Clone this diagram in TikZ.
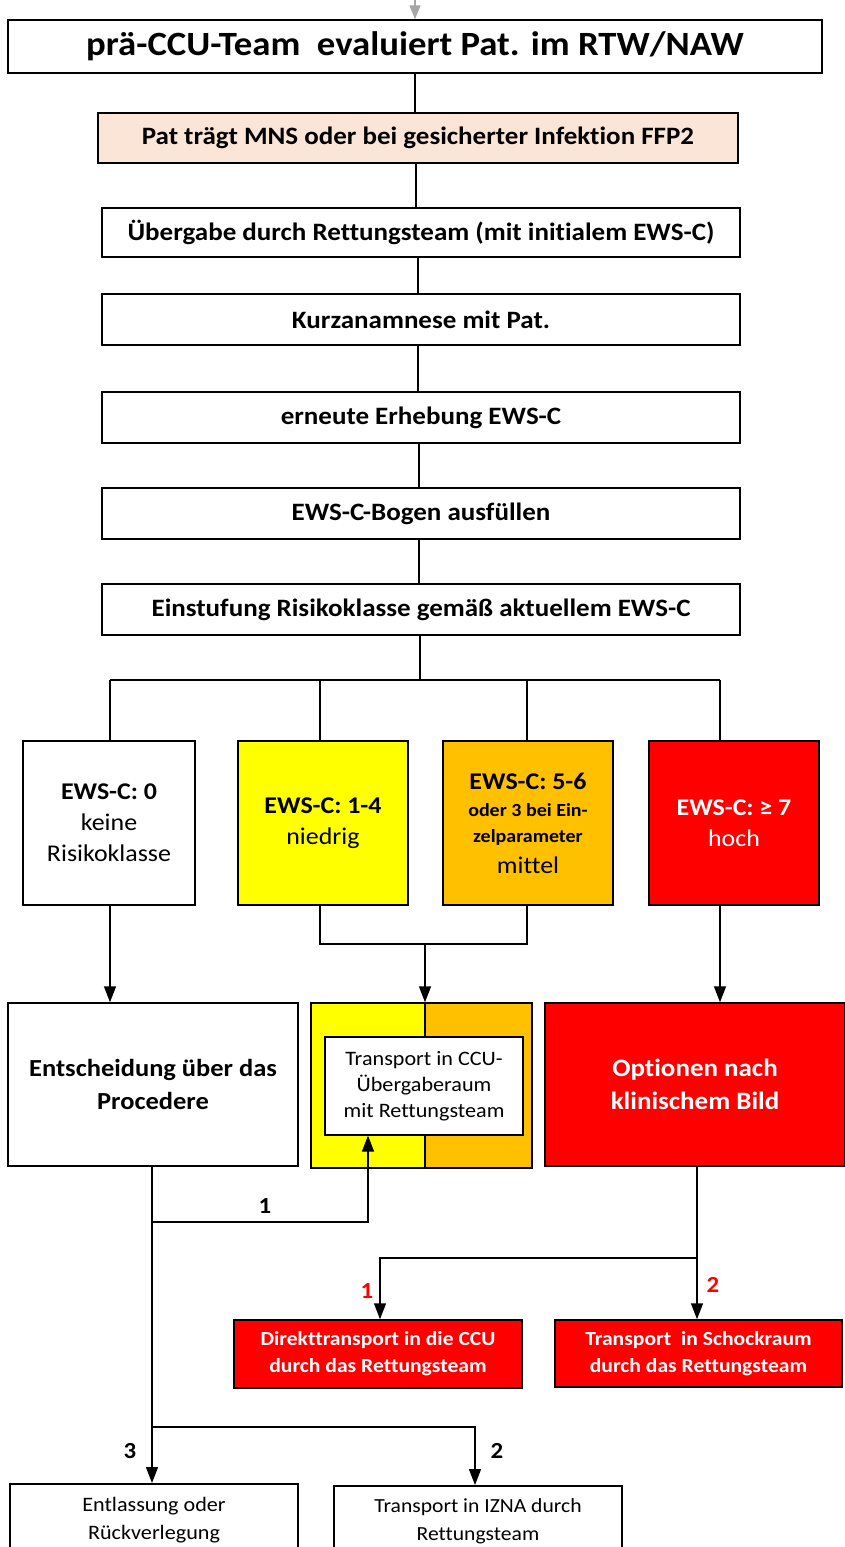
\documentclass[tikz,border=0pt]{standalone}
\usepackage{fontspec}
\setmainfont[FakeStretch=1.08, Ligatures=NoCommon]{Carlito}
\usetikzlibrary{arrows.meta}
\definecolor{peach}{HTML}{FBE5D6}
\definecolor{ewsyellow}{HTML}{FFFF00}
\definecolor{ewsorange}{HTML}{FFC000}
\definecolor{ewsred}{HTML}{FF0000}
\definecolor{topgray}{HTML}{A6A6A6}
\tikzset{
  box/.style={draw=black, line width=1.5pt, rectangle, align=center, inner sep=2pt},
  stepbox/.style={box, fill=white, minimum width=638pt, font=\fontsize{25}{29}\selectfont\bfseries},
  riskbox/.style={box, minimum width=170pt, minimum height=164pt, font=\fontsize{24}{31}\selectfont},
  conn/.style={draw=black, line width=1.5pt},
  arr/.style={conn, -{Triangle[length=16pt,width=12pt]}},
  num/.style={font=\fontsize{23}{26}\selectfont\bfseries},
}
\begin{document}
\begin{tikzpicture}[x=1pt,y=-1pt]
\useasboundingbox (0,0) rectangle (844,1547);
% top
\node[box, fill=white, minimum width=814pt, minimum height=53pt, font=\fontsize{34}{40}\selectfont\bfseries] (title) at (415,46.5) {prä-CCU-Team\ \ evaluiert Pat. im RTW/NAW};
\coordinate (topin) at (415,-12);
\draw[draw=topgray, line width=1.4pt, -{Triangle[length=14pt,width=11pt]}] (topin) -- (title.north);
\node[stepbox, fill=peach, minimum width=640pt, minimum height=50pt] (b2) at (418,138) {Pat trägt MNS oder bei gesicherter Infektion FFP2};
\node[stepbox, minimum height=49pt] (b3) at (421,232.5) {Übergabe durch Rettungsteam (mit initialem EWS-C)};
\node[stepbox, minimum height=51pt] (b4) at (421,319.5) {Kurzanamnese mit Pat.};
\node[stepbox, minimum height=51pt] (b5) at (421,417.5) {erneute Erhebung EWS-C};
\node[stepbox, minimum height=51pt] (b6) at (421,513.5) {EWS-C-Bogen ausfüllen};
\node[stepbox, minimum height=51pt] (b7) at (421,609.5) {Einstufung Risikoklasse gemäß aktuellem EWS-C};
\draw[conn] (title.south -| 415,0) -- (b2.north -| 415,0);
\draw[conn] (b2.south -| 416,0) -- (b3.north -| 416,0);
\draw[conn] (b3.south -| 418,0) -- (b4.north -| 418,0);
\draw[conn] (b4.south -| 418,0) -- (b5.north -| 418,0);
\draw[conn] (b5.south -| 419,0) -- (b6.north -| 419,0);
\draw[conn] (b6.south -| 419,0) -- (b7.north -| 419,0);
% risk boxes
\node[riskbox, fill=white, minimum width=172pt] (r0) at (109,823) {\textbf{EWS-C: 0}\\keine\\Risikoklasse};
\node[riskbox, fill=ewsyellow] (r1) at (323,823) {\textbf{EWS-C: 1-4}\\niedrig};
\node[riskbox, fill=ewsorange] (r2) at (528,823) {\textbf{EWS-C: 5-6}\\[-4pt]{\fontsize{18.5}{25}\selectfont\bfseries oder 3 bei Ein-}\\[-5pt]{\fontsize{18.5}{25}\selectfont\bfseries zelparameter}\\mittel};
\node[riskbox, fill=ewsred, text=white] (r3) at (734,823) {\textbf{EWS-C: ≥ 7}\\hoch};
\coordinate (hc) at (420,680);
\coordinate (h0) at (110,680);
\coordinate (h1) at (320,680);
\coordinate (h2) at (527,680);
\coordinate (h3) at (720,680);
\draw[conn] (b7.south -| hc) -- (hc);
\draw[conn] (h0) -- (h3);
\draw[conn] (h0) -- (h0 |- r0.north);
\draw[conn] (h1) -- (h1 |- r1.north);
\draw[conn] (h2) -- (h2 |- r2.north);
\draw[conn] (h3) -- (h3 |- r3.north);
% decision row
\node[box, fill=white, minimum width=290pt, minimum height=163pt, font=\fontsize{24.5}{33}\selectfont\bfseries] (d0) at (153,1084.5) {Entscheidung über das\\Procedere};
\fill[ewsyellow] (311,1003) rectangle (425,1168);
\fill[ewsorange] (425,1003) rectangle (532,1168);
\draw[line width=1.5pt] (425,1003) -- (425,1168);
\node[box, minimum width=221pt, minimum height=165pt] (dm) at (421.5,1085.5) {};
\node[box, fill=white, line width=1.3pt, minimum width=198pt, minimum height=98pt, font=\fontsize{20.5}{26}\selectfont] (inner) at (424,1086) {Transport in CCU-\\Übergaberaum\\mit Rettungsteam};
\node[box, fill=ewsred, text=white, minimum width=300pt, minimum height=163pt, font=\fontsize{25}{33}\selectfont\bfseries] (d3) at (695,1084.5) {Optionen nach\\klinischem Bild};
% risk to decision
\coordinate (m1) at (320,944);
\coordinate (m2) at (527,944);
\coordinate (mc) at (425,944);
\draw[arr] (r0.south -| 110,0) -- (d0.north -| 110,0);
\draw[conn] (r1.south -| m1) -- (m1) -- (m2) -- (r2.south -| m2);
\draw[arr] (mc) -- (dm.north -| mc);
\draw[arr] (r3.south -| 720,0) -- (d3.north -| 720,0);
% red options
\node[box, fill=ewsred, text=white, minimum width=288pt, minimum height=68pt, font=\fontsize{20}{27}\selectfont\bfseries] (e1) at (378,1354) {Direkttransport in die CCU\\durch das Rettungsteam};
\node[box, fill=ewsred, text=white, minimum width=287pt, minimum height=67pt, font=\fontsize{20}{27}\selectfont\bfseries] (e2) at (698.5,1353.5) {Transport\ \ in Schockraum\\durch das Rettungsteam};
\coordinate (rb) at (697,1258);
\coordinate (rl) at (380,1258);
\draw[arr] (d3.south -| rb) -- (e2.north -| rb);
\draw[arr] (rb) -- (rl) -- (e1.north -| rl);
\node[num, text=ewsred] (n1r) at (367,1291) {1};
\node[num, text=ewsred] (n2r) at (713,1285) {2};
% bottom
\node[box, fill=white, minimum width=288pt, minimum height=72pt, anchor=north, font=\fontsize{20.5}{28}\selectfont] (f1) at (154,1483) {Entlassung oder\\Rückverlegung};
\node[box, fill=white, minimum width=288pt, minimum height=72pt, anchor=north, font=\fontsize{20}{28}\selectfont] (f2) at (478,1485) {Transport in IZNA durch\\Rettungsteam};
\coordinate (l1) at (152,1222);
\coordinate (l1r) at (368,1222);
\coordinate (l2) at (152,1427);
\coordinate (l2r) at (475,1427);
\draw[arr] (d0.south -| l1) -- (f1.north -| l1);
\draw[arr] (l1) -- (l1r) -- (inner.south -| l1r);
\draw[arr] (l2) -- (l2r) -- (f2.north -| l2r);
\node[num] (n1) at (265,1206) {1};
\node[num] (n3) at (130,1451) {3};
\node[num] (n2) at (497,1451) {2};
\end{tikzpicture}
\end{document}
